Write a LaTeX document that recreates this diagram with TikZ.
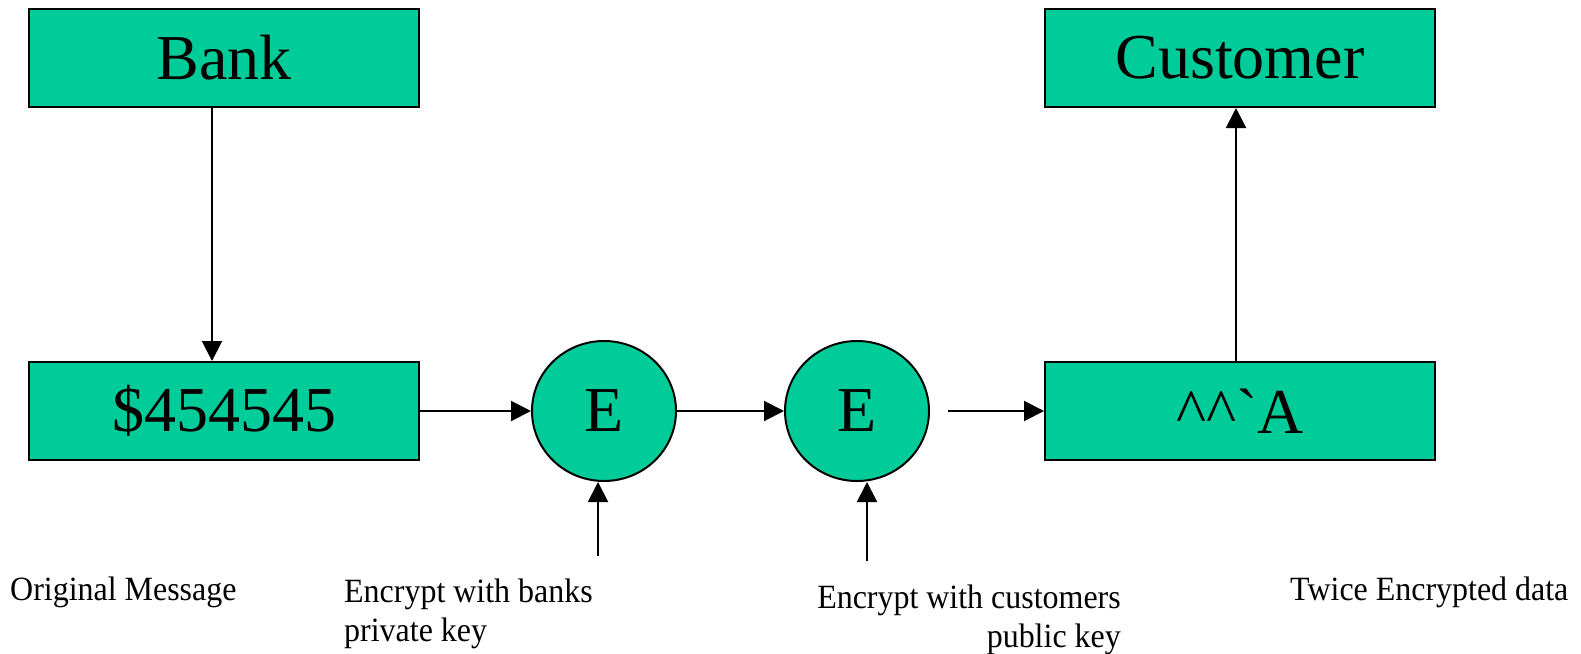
\documentclass[tikz,border=0pt]{standalone}
\usepackage{fontspec}
\setmainfont{Liberation Serif}
\newfontfamily\labfont[FakeStretch=0.94]{Liberation Serif}
\usetikzlibrary{arrows.meta,shapes.geometric}
\definecolor{teal1}{RGB}{0,204,153}
\begin{document}
\begin{tikzpicture}[x=1pt,y=-1pt,
  box/.style={draw=black, line width=2pt, fill=teal1, minimum width=390pt, minimum height=98pt, inner sep=0pt, font=\fontsize{64}{70}\selectfont},
  enc/.style={draw=black, line width=2pt, fill=teal1, ellipse, minimum width=144pt, minimum height=140pt, inner sep=0pt, font=\fontsize{64}{70}\selectfont},
  conn/.style={line width=2pt, -{Triangle[length=20pt,width=20pt]}},
  lbl/.style={inner sep=0pt, font=\labfont\fontsize{34}{39}\selectfont}]
\useasboundingbox (0,0) rectangle (1581,653);
\node[box] (bank) at (224,58) {Bank};
\node[box] (cust) at (1240,58) {Customer};
\node[box] (msg) at (224,411) {\$454545};
\node[box] (twice) at (1240,411) {\textasciicircum\textasciicircum\textasciigrave A};
\node[enc] (e1) at (604,411) {E};
\node[enc] (e2) at (857,411) {E};
\coordinate (c1) at (212,0);
\coordinate (c2) at (1236,0);
\coordinate (k1) at (598,556);
\coordinate (k2) at (867,561);
\coordinate (s3) at (948,411);
\draw[conn] (c1 |- bank.south) -- (c1 |- msg.north);
\draw[conn] (c2 |- twice.north) -- (c2 |- cust.south);
\draw[conn] (msg.east) -- (e1.west);
\draw[conn] (e1.east) -- (e2.west);
\draw[conn] (s3) -- (twice.west);
\draw[conn] (k1) -- (k1 |- e1.south);
\draw[conn] (k2) -- (k2 |- e2.south);
\node[lbl, anchor=base west] (l1) at (10,600) {Original Message};
\node[lbl, anchor=base west, align=left] (l2) at (344,641) {Encrypt with banks\\private key};
\node[lbl, anchor=base east, align=right] (l3) at (1121,647) {Encrypt with customers\\public key};
\node[lbl, anchor=base west] (l4) at (1290,600) {Twice Encrypted data};
\end{tikzpicture}
\end{document}
